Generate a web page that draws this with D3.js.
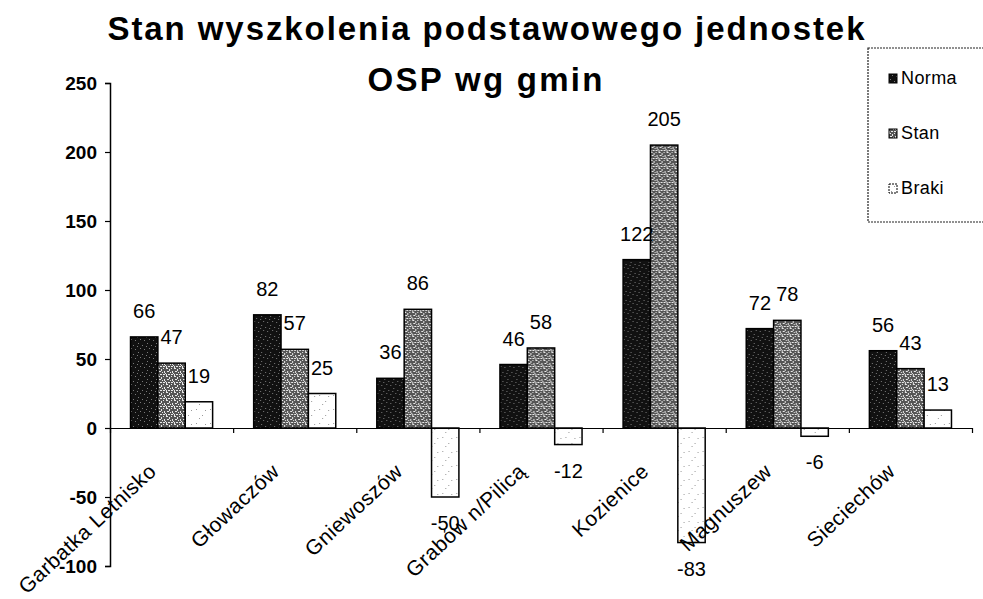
<!DOCTYPE html>
<html>
<head>
<meta charset="utf-8">
<script src="https://cdn.jsdelivr.net/npm/d3@7"></script>
<style>
  html, body { margin: 0; padding: 0; background: #fff; }
  svg { display: block; font-family: "Liberation Sans", Arial, sans-serif; }
</style>
</head>
<body>
<svg id="chart" width="983" height="599"></svg>
<script>
// ---- data ----
const categories = ["Garbatka Letnisko", "Głowaczów", "Gniewoszów", "Grabów n/Pilicą", "Kozienice", "Magnuszew", "Sieciechów"];
const seriesNames = ["Norma", "Stan", "Braki"];
const norma = [66, 82, 36, 46, 122, 72, 56];
const stan  = [47, 57, 86, 58, 205, 78, 43];
const braki = [19, 25, -50, -12, -83, -6, 13];
const yTicks = [-100, -50, 0, 50, 100, 150, 200, 250];
const titleLines = ["Stan wyszkolenia podstawowego jednostek", "OSP wg gmin"];

const seriesValues = { Norma: norma, Stan: stan, Braki: braki };

const svg = d3.select("#chart");

// ---- patterns (scan-like texture) ----
const defs = svg.append("defs");
function makePattern(id, bg, dots, dotColor, size) {
  const p = defs.append("pattern").attr("id", id).attr("patternUnits", "userSpaceOnUse")
    .attr("width", size).attr("height", size);
  p.append("rect").attr("width", size).attr("height", size).attr("fill", bg);
  dots.forEach(d => p.append("rect").attr("x", d[0]).attr("y", d[1]).attr("width", d[2] || 1).attr("height", d[3] || 1).attr("fill", dotColor));
}
makePattern("pNorma", "#111111", [[1,1],[5,3],[3,6],[7,7],[0,4]], "#7a7a7a", 9);
makePattern("pStan", "#555555", [[0,0,2,1],[3,1,1,2],[5,0],[1,3,2,1],[6,3,1,2],[4,4],[0,6,1,2],[2,6,2,1],[5,6,2,1],[7,5]], "#e8e8e8", 8);
makePattern("pBraki", "#ffffff", [[2,3],[8,9],[5,12],[11,4]], "#999", 14);

const fills = { Norma: "url(#pNorma)", Stan: "url(#pStan)", Braki: "url(#pBraki)" };

// ---- scales ----
const plotLeft = 110, plotRight = 972;
const y = d3.scaleLinear().domain([-100, 250]).range([566, 83]);
const x0 = d3.scaleBand().domain(categories).range([plotLeft, plotRight]);
const x1 = d3.scaleBand().domain(seriesNames).range([0, x0.bandwidth()]).paddingInner(0).paddingOuter(0.75);

// ---- title ----
const title = svg.append("g").attr("font-weight", "bold").attr("fill", "#000").attr("text-anchor", "middle");
title.append("text").attr("x", 486).attr("y", 40).attr("font-size", 33)
  .attr("textLength", 757).attr("lengthAdjust", "spacing").text(titleLines[0]);
title.append("text").attr("x", 485).attr("y", 91).attr("font-size", 33)
  .attr("textLength", 235).attr("lengthAdjust", "spacing").text(titleLines[1]);

// ---- bars ----
const groups = svg.append("g").selectAll("g").data(categories).join("g")
  .attr("transform", d => `translate(${x0(d)},0)`);

groups.selectAll("rect")
  .data((c, i) => seriesNames.map(s => ({ s, v: seriesValues[s][i] })))
  .join("rect")
  .attr("x", d => x1(d.s))
  .attr("width", x1.bandwidth())
  .attr("y", d => y(Math.max(0, d.v)))
  .attr("height", d => Math.abs(y(d.v) - y(0)))
  .attr("fill", d => fills[d.s])
  .attr("stroke", "#000")
  .attr("stroke-width", 1.5);

// ---- value labels ----
groups.selectAll("text.val")
  .data((c, i) => seriesNames.map(s => ({ s, v: seriesValues[s][i] })))
  .join("text")
  .attr("class", "val")
  .attr("x", d => x1(d.s) + x1.bandwidth() / 2)
  .attr("y", d => d.v >= 0 ? y(d.v) - 19 : y(d.v) + 33)
  .attr("text-anchor", "middle")
  .attr("font-size", 20)
  .attr("fill", "#000")
  .text(d => String(d.v));

// ---- y axis ----
const yAxis = svg.append("g").attr("transform", `translate(${plotLeft},0)`)
  .call(d3.axisLeft(y).tickValues(yTicks).tickSize(5).tickPadding(8).tickFormat(d => String(d)));
yAxis.select(".domain").attr("stroke", "#000").attr("stroke-width", 1.5);
yAxis.selectAll(".tick line").attr("stroke", "#000").attr("stroke-width", 1.2);
yAxis.selectAll(".tick text").attr("font-size", 19).attr("font-weight", "bold")
  .attr("font-family", "'Liberation Sans', Arial, sans-serif").attr("fill", "#000");

// ---- x axis (category boundaries at zero line) ----
const xEdge = d3.scaleLinear().domain([0, categories.length]).range([plotLeft, plotRight]);
const xAxis = svg.append("g").attr("transform", `translate(0,${y(0)})`)
  .call(d3.axisBottom(xEdge).tickValues(d3.range(categories.length + 1)).tickSize(5).tickSizeOuter(0).tickFormat(""));
xAxis.select(".domain").attr("stroke", "#000").attr("stroke-width", 1.2);
xAxis.selectAll(".tick line").attr("stroke", "#000").attr("stroke-width", 1.2);

// ---- category labels ----
svg.append("g").selectAll("text").data(categories).join("text")
  .attr("transform", d => `translate(${x0(d) + x0.bandwidth() / 2 - 14},473) rotate(-43)`)
  .attr("text-anchor", "end")
  .attr("font-size", 21)
  .attr("letter-spacing", 0.5)
  .attr("fill", "#000")
  .text(d => d);

// ---- legend ----
const legend = svg.append("g");
legend.append("rect").attr("x", 868).attr("y", 48).attr("width", 130).attr("height", 174)
  .attr("fill", "#fff").attr("stroke", "#222").attr("stroke-width", 1.2).attr("stroke-dasharray", "2,1");
const legY = d3.scalePoint().domain(seriesNames).range([78, 188]);
const li = legend.selectAll("g.li").data(seriesNames).join("g").attr("class", "li")
  .attr("transform", d => `translate(889,${legY(d)})`);
li.append("rect").attr("x", 0).attr("y", -4).attr("width", 8).attr("height", 9)
  .attr("fill", d => fills[d]).attr("stroke", "#000").attr("stroke-width", 1)
  .attr("stroke-dasharray", d => d === "Braki" ? "2,1" : null);
li.append("text").attr("x", 12).attr("y", 6).attr("font-size", 18).attr("letter-spacing", 0.4)
  .attr("fill", "#000").text(d => d);
</script>
</body>
</html>
